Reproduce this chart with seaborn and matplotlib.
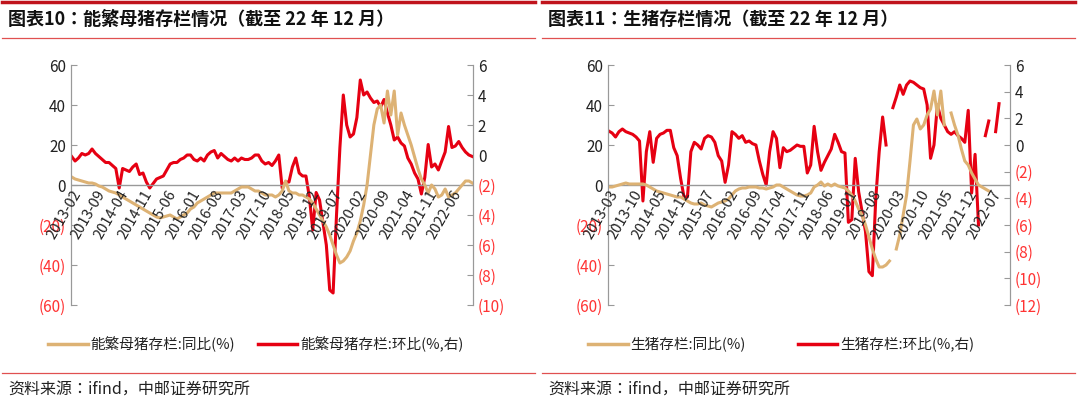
import numpy as np
import pandas as pd
import matplotlib
matplotlib.use("Agg")
import matplotlib.pyplot as plt
from matplotlib.lines import Line2D
import seaborn as sns

plt.rcParams["font.family"] = ["Noto Sans CJK SC", "Noto Sans CJK JP", "Noto Sans CJK TC", "DejaVu Sans"]
nan = np.nan

# ---- Panel 1: 能繁母猪存栏, monthly 2013-02 .. 2022-12
sow_yoy = [4,3,2.5,2,1.5,1,1,0.5,-0.5,-1,-2,
           -3,-3.5,-4,-5,-6,-7,-8,-9,-10,-11,-12,-13,
           -14,-15,-16,-16.5,-16,-15.5,-15,-16,-17,-16,-15,-14,
           -12,-11,-9,-8,-7,-6,-5,-4,-4,-4,-4,-4,
           -4,-3,-2,-1,-1,-1,-2,-3,-3,-4,-5,-5,
           -5,-6,-5,-3,2,-3,-4,-4,-5,-5,-6,-7,
           -9,-12,-15,-18,-21,-25,-30,-35,-39,-38,-36,-33,
           -28,-24,-18,-10,0,15,30,38,40,31,47,35,
           47,25,36,30,25,20,14,8,3,0,-4,0,
           -2,-6,-5,-2,-6,-5,-4,-2,0,2,2,1]
sow_mom = [-0.1,-0.4,-0.2,0.1,0.0,0.1,0.4,0.1,-0.1,-0.3,-0.5,
           -0.5,-0.7,-0.9,-2.2,-0.9,-1.0,-1.1,-0.8,-0.6,-1.3,-1.2,-1.8,
           -2.2,-1.9,-1.6,-1.5,-1.4,-1.0,-0.6,-0.5,-0.5,-0.3,-0.2,0.0,
           0.0,-0.3,-0.4,-0.2,-0.4,0.0,0.2,0.3,-0.2,0.1,-0.1,-0.3,
           -0.4,-0.2,-0.4,-0.2,-0.3,-0.3,-0.2,0.0,0.0,-0.4,-0.6,-0.5,
           -0.7,-0.4,0.0,-2.2,-1.8,-1.8,-0.8,-0.2,-1.2,-1.4,-1.4,-2.8,
           -5.0,-2.5,-3.0,-4.5,-6.0,-9.0,-9.2,-4.0,0.5,4.0,2.0,1.2,
           1.4,2.5,5.0,4.0,4.2,3.8,3.5,3.6,3.2,3.7,2.8,2.0,
           1.0,1.2,0.8,0.6,-0.2,-0.6,-1.2,-1.6,-2.6,-1.5,0.7,-0.8,
           -0.6,-1.0,-0.4,0.2,1.9,0.5,0.6,0.9,0.5,0.2,0.0,-0.1]
sow_ticks = ["2013-02","2013-09","2014-04","2014-11","2015-06","2016-01","2016-08",
             "2017-03","2017-10","2018-05","2018-12","2019-07","2020-02","2020-09",
             "2021-04","2021-11","2022-06"]

# ---- Panel 2: 生猪存栏, monthly 2013-03 .. 2022-12
hog_yoy = [-1,-1,-0.5,0,0.5,1,0.5,0.5,0.5,0.5,
           0.5,0,-1,-2,-3,-3.5,-4,-4.5,-5,-5.5,-6,-6,
           -7,-8,-9,-9.5,-9.5,-9,-10,-10.5,-11,-10,-9,-8.5,
           -8,-7,-5,-3,-2,-1.5,-1.5,-1,-1,-1,-1.5,-1.5,
           -2,-1.5,-1,0,0,-1,-2,-3,-4,-5,-5.5,-5.5,
           -5,-4,-1,0,1.5,-0.5,0.5,-0.5,0.5,-0.5,-1,-1.5,
           -3,-5,-8,-12,-15,-20,-26,-32,-37,-41,-41,-40,
           -38,nan,-32,-25,-15,-5,12,30,33,28,30,35,
           38,47,35,47,30,nan,36,30,25,18,12,10,
           6,3,0,-1,-2,-3,nan,nan,nan,nan,nan,nan]
hog_mom = [1.05,0.9,0.6,1.0,1.2,1.0,0.9,0.8,0.6,0.3,
           -4.2,-0.5,1.0,-1.3,0.5,0.8,0.9,1.1,1.1,-0.2,-0.8,-2.5,
           -3.9,-3.9,-0.5,0.2,0.0,-0.3,0.5,0.7,0.6,0.2,-0.8,-1.2,
           -2.8,-1.5,1.0,0.8,0.5,0.7,0.2,0.3,0.1,0.0,-1.2,-2.2,
           -3.0,-0.5,1.0,0.5,-1.7,-0.2,-0.5,-0.4,-0.2,0.0,-0.1,-0.1,
           -2.1,-1.5,1.4,-0.5,-1.9,-1.3,-0.8,-0.3,0.8,0.2,-0.5,-0.6,
           -5.8,-5.6,-1.0,-3.5,-5.0,-6.5,-9.5,-9.8,-4.0,-0.5,2.1,0.0,
           nan,2.8,3.6,4.5,3.8,4.5,4.8,4.7,4.5,4.3,4.2,3.0,
           -1.0,0.0,3.0,2.0,1.5,1.0,0.8,1.0,0.7,0.5,0.2,2.6,
           -3.6,-0.7,-6.0,nan,0.7,1.8,nan,1.0,3.1,nan,nan,nan]
hog_ticks = ["2013-03","2013-10","2014-05","2014-12","2015-07","2016-02","2016-09",
             "2017-04","2017-11","2018-06","2019-01","2019-08","2020-03","2020-10",
             "2021-05","2021-12","2022-07"]

TAN = "#DDB274"
RED = "#E60012"
LRED = "#FF3333"

def seg_frame(vals):
    v = np.array(vals, dtype=float)
    seg = np.cumsum(np.isnan(v))
    df = pd.DataFrame({"m": np.arange(len(v)), "v": v, "seg": seg})
    return df.dropna()

def fmt_paren(v):
    return f"({abs(int(v))})" if v < 0 else f"{int(v)}"

W, H = 1080, 409
fig = plt.figure(figsize=(W/100, H/100), dpi=100)

panels = [
    (71, sow_yoy, sow_mom, sow_ticks, np.arange(-10, 7, 2), "图表10：能繁母猪存栏情况（截至 22 年 12 月）",
     "能繁母猪存栏:同比(%)", "能繁母猪存栏:环比(%,右)", 0),
    (608, hog_yoy, hog_mom, hog_ticks, np.arange(-12, 7, 2), "图表11：生猪存栏情况（截至 22 年 12 月）",
     "生猪存栏:同比(%)", "生猪存栏:环比(%,右)", 540),
]

for (x0, yoy, mom, ticks, rticks, title, l1, l2, off) in panels:
    ax = fig.add_axes([x0/W, 1-305/H, 402/W, 240/H])
    ax2 = ax.twinx()
    d1 = seg_frame(yoy)
    d2 = seg_frame(mom)
    sns.lineplot(data=d1, x="m", y="v", units="seg", estimator=None, ax=ax, color=TAN, lw=2.2)
    sns.lineplot(data=d2, x="m", y="v", units="seg", estimator=None, ax=ax2, color=RED, lw=2.2)
    n = len(yoy)
    ax.set_xlim(-0.2, n - 1 + 0.2)
    ax.set_ylim(-60, 60)
    ax2.set_ylim(rticks[0], 6)
    ax.axhline(0, color="#999999", lw=1, zorder=0)
    for a in (ax, ax2):
        a.set_xlabel(""); a.set_ylabel("")
        for s in ("top", "bottom"):
            a.spines[s].set_visible(False)
        for s in ("left", "right"):
            a.spines[s].set_color("#999999")
    lt = np.arange(-60, 61, 20)
    ax.set_yticks(lt)
    ax.set_yticklabels([fmt_paren(v) for v in lt], fontsize=11)
    for t, v in zip(ax.get_yticklabels(), lt):
        t.set_color(LRED if v < 0 else "#222222")
    ax2.set_yticks(rticks)
    ax2.set_yticklabels([fmt_paren(v) for v in rticks], fontsize=11)
    for t, v in zip(ax2.get_yticklabels(), rticks):
        t.set_color(LRED if v < 0 else "#222222")
    ax.tick_params(axis="y", length=4, color="#999999", direction="in")
    ax2.tick_params(axis="y", length=4, color="#999999", direction="in")
    ax.set_xticks(np.arange(0, n, 7)[:len(ticks)])
    ax.set_xticklabels([])
    ax.tick_params(axis="x", length=0)
    for xt, lab in zip(np.arange(0, n, 7), ticks):
        ax.text(xt, -1.5, lab, rotation=60, ha="right", va="top", fontsize=10.5,
                color="#222222", rotation_mode="anchor", transform=ax.transData)
    ax.set_zorder(ax2.get_zorder() + 1)
    ax.patch.set_visible(False)
    # legend
    fig.add_artist(Line2D([(off+48)/W, (off+88)/W], [1-344/H]*2, color=TAN, lw=2.5))
    fig.text((off+90)/W, 1-344/H, l1, fontsize=10.5, va="center", color="#222222")
    fig.add_artist(Line2D([(off+258)/W, (off+297)/W], [1-344/H]*2, color=RED, lw=2.5))
    fig.text((off+300)/W, 1-344/H, l2, fontsize=10.5, va="center", color="#222222")
    # title & rules
    fig.text((off+8)/W, 1-19/H, title, fontsize=13, fontweight="bold", va="center", color="#111111")
    fig.add_artist(Line2D([(off+2)/W, (off+535)/W], [1-2/H]*2, color="#C0141C", lw=2.5))
    fig.add_artist(Line2D([(off+2)/W, (off+535)/W], [1-38/H]*2, color="#E05050", lw=0.9))
    fig.add_artist(Line2D([(off+2)/W, (off+535)/W], [1-373/H]*2, color="#E05050", lw=0.9))
    fig.text((off+8)/W, 1-390/H, "资料来源：ifind，中邮证券研究所", fontsize=11.5, va="center", color="#222222")

fig.savefig("out.png", dpi=100)
